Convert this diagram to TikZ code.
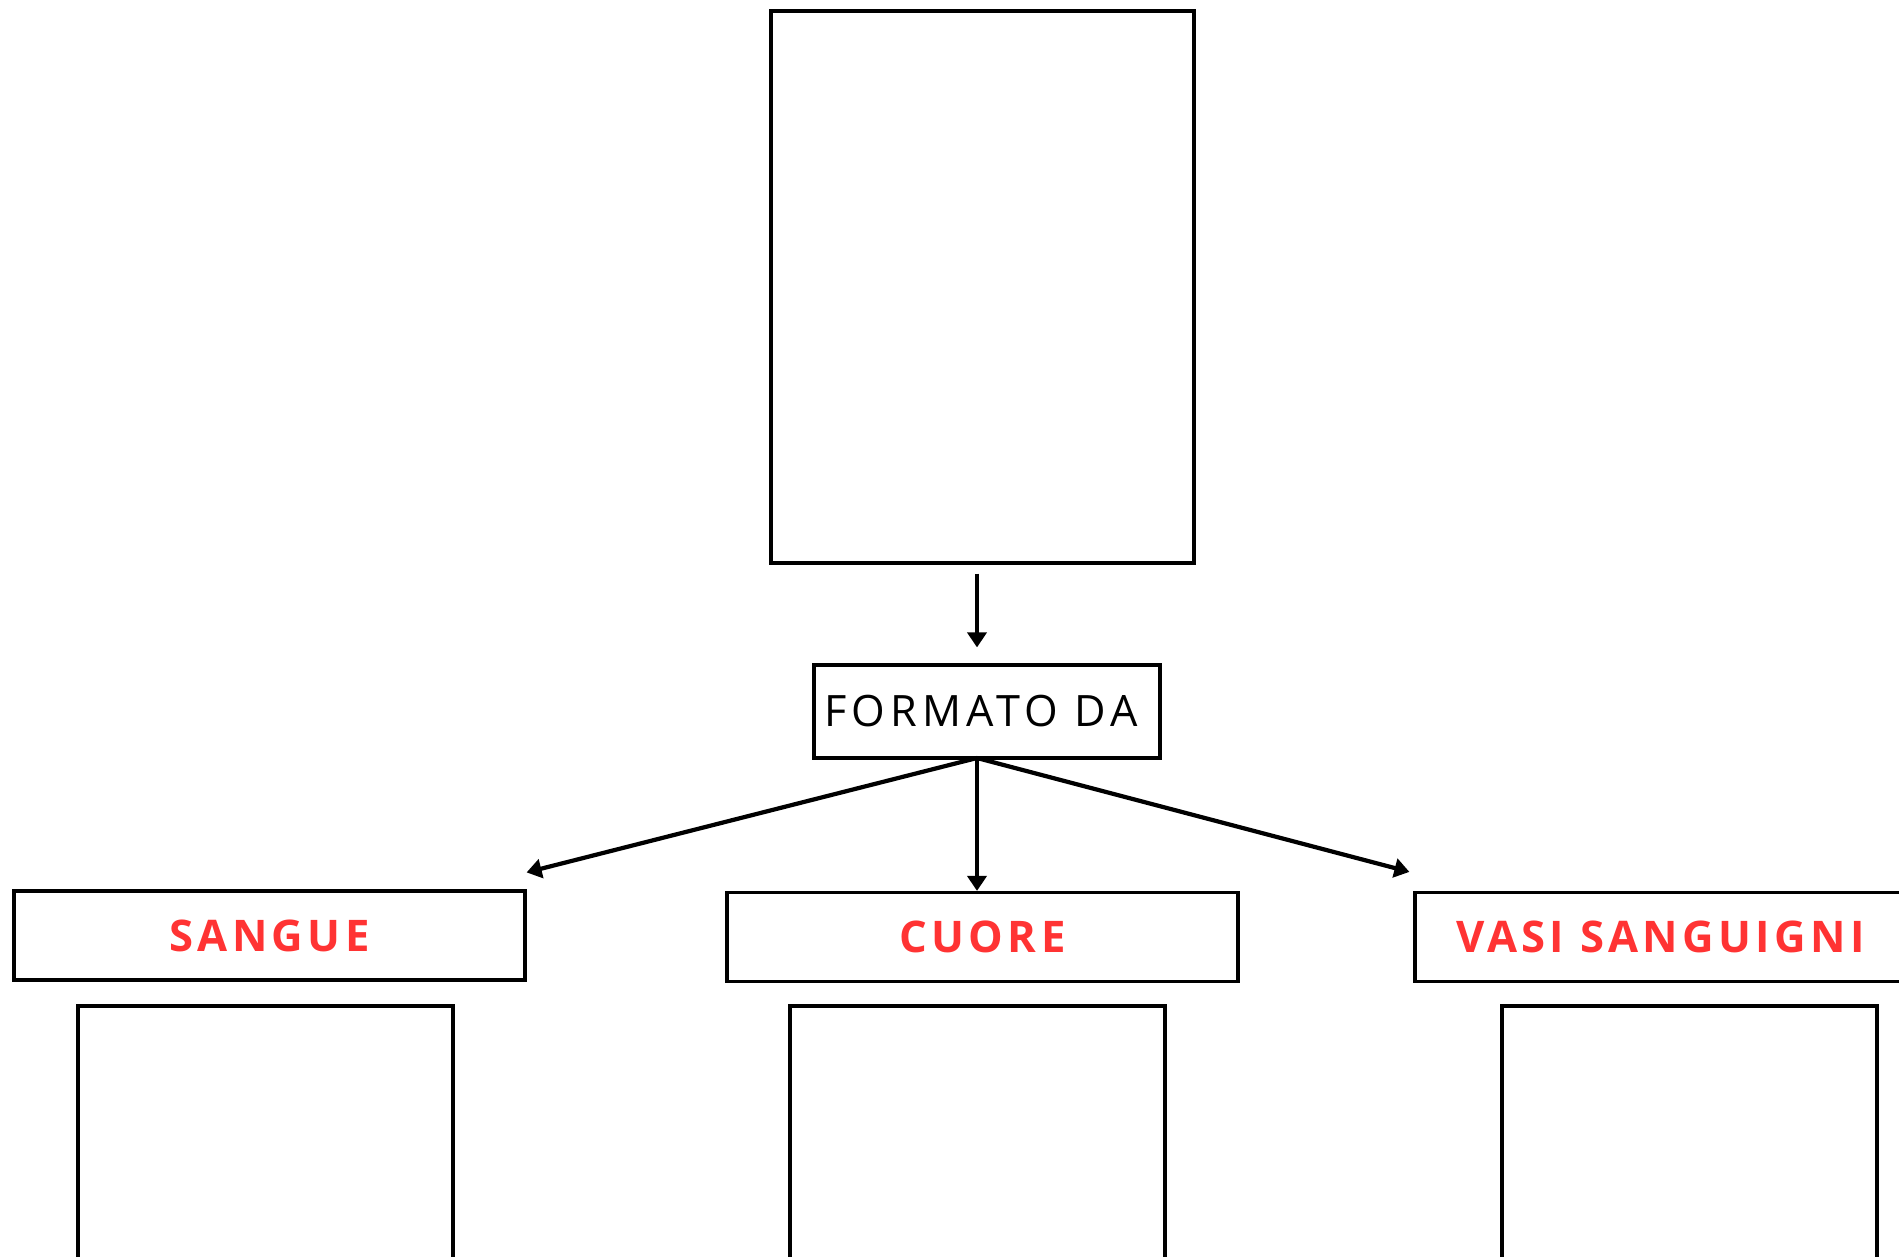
\documentclass[tikz,border=0pt]{standalone}
\usepackage{fontspec}
\setmainfont{Open Sans}
\newfontfamily\spacedfont[LetterSpace=12]{Open Sans}
\newfontfamily\headfont[LetterSpace=10]{Open Sans}
\definecolor{headred}{RGB}{255,51,51}
\usetikzlibrary{arrows.meta}

\begin{document}
\begin{tikzpicture}[
    box/.style={draw, line width=0.9pt, inner sep=0pt},
    head/.style={box, minimum width=5.11cm, minimum height=0.89cm,
      font=\fontsize{12.4}{15}\selectfont\headfont\bfseries, text=headred},
    empty/.style={box, minimum width=3.75cm, minimum height=2.94cm},
    arr/.style={-{Triangle[length=1.5mm,width=1.9mm]}, line width=1.2pt}
  ]
    \useasboundingbox (0,0) rectangle (18.99,-12.57);

    \node[box, minimum width=4.23cm, minimum height=5.52cm] (sistema) at (9.825,-2.87) {};
    \node[box, minimum width=3.46cm, minimum height=0.93cm] (formato) at (9.87,-7.115)
      {\fontsize{12.3}{14}\selectfont\spacedfont FORMATO DA\hspace*{0.12cm}};
    \coordinate (split) at (9.77,-7.58);

    \node[head] (sangue) at (2.695,-9.355) {SANGUE};
    \node[head] (cuore) at (9.825,-9.37) {CUORE};
    \node[head] (vasi) at (16.705,-9.37) {VASI SANGUIGNI\hspace*{0.2cm}};

    \node[empty] (sangueb) at (2.655,-11.53) {};
    \node[empty] (cuoreb) at (9.775,-11.53) {};
    \node[empty] (vasib) at (16.895,-11.53) {};

    \draw[arr, shorten <=0.09cm, shorten >=0.16cm] (sistema.south -| split) -- (formato.north -| split);
    \draw[arr] (split) -- ([yshift=0.17cm]sangue.north east);
    \draw[arr] (split) -- (cuore.north -| split);
    \draw[arr] (split) -- ([xshift=-0.04cm,yshift=0.19cm]vasi.north west);
  \end{tikzpicture}
\end{document}
